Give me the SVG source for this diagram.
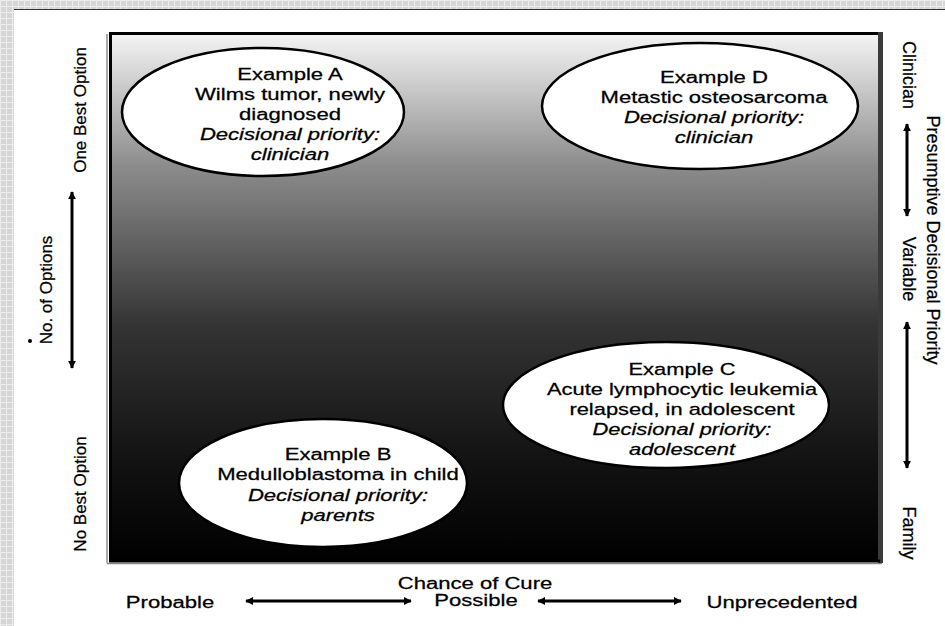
<svg xmlns="http://www.w3.org/2000/svg" width="945" height="626" viewBox="0 0 945 626">
  <defs>
    <pattern id="chk" width="6" height="6" patternUnits="userSpaceOnUse">
      <rect width="6" height="6" fill="#d6d6d6"/>
      <path d="M0 0.5H6M0.5 0V6" stroke="#ececec" stroke-width="1"/>
    </pattern>
    <linearGradient id="bg" x1="0" y1="0" x2="0" y2="1">
      <stop offset="0" stop-color="#f4f4f4"/>
      <stop offset="0.25" stop-color="#8c8c8c"/>
      <stop offset="0.55" stop-color="#343434"/>
      <stop offset="0.8" stop-color="#131313"/>
      <stop offset="1" stop-color="#000"/>
    </linearGradient>
    <marker id="ah" viewBox="0 0 10 10" refX="9" refY="5" markerWidth="8" markerHeight="8" markerUnits="userSpaceOnUse" orient="auto-start-reverse">
      <path d="M0 0L10 5L0 10z" fill="#000"/>
    </marker>
    <style>
      .t{font-family:"Liberation Sans",Arial,sans-serif;font-size:16px;fill:#000;stroke:#000;stroke-width:0.25;text-anchor:middle}
      .i{font-style:italic}
      .s{font-size:17px}
      .r{font-size:18px}
      .node ellipse{fill:#fff;stroke:#000;stroke-width:2.5}
      .arr{stroke:#000;stroke-width:3;fill:none;marker-start:url(#ah);marker-end:url(#ah)}
    </style>
  </defs>

  <rect width="945" height="626" fill="url(#chk)"/>
  <rect x="14" y="9" width="931" height="617" fill="#fff"/>
  <line x1="14" y1="9.5" x2="945" y2="9.5" stroke="#333" stroke-width="1"/>
  <circle cx="30" cy="341" r="2" fill="#000"/>

  <g id="chart-box">
    <line x1="107" y1="34" x2="107" y2="563" stroke="#aaa" stroke-width="2"/>
    <line x1="107" y1="563.5" x2="882" y2="563.5" stroke="#888" stroke-width="1.5"/>
    <rect x="110" y="34" width="770" height="528" fill="url(#bg)"/>
    <line x1="109" y1="33.5" x2="880" y2="33.5" stroke="#000" stroke-width="3"/>
    <line x1="110.5" y1="32" x2="110.5" y2="562" stroke="#000" stroke-width="3"/>
    <line x1="880.5" y1="32" x2="880.5" y2="563" stroke="#3a3a3a" stroke-width="5"/>
    <line x1="109" y1="561" x2="880" y2="561" stroke="#000" stroke-width="3"/>
  </g>

  <g id="example-a" class="node">
    <ellipse cx="263" cy="112" rx="141" ry="64"/>
    <g transform="translate(290,0) scale(1.38,1)">
      <text class="t" x="0" y="80">Example A</text>
      <text class="t" x="0" y="100">Wilms tumor, newly</text>
      <text class="t" x="0" y="120">diagnosed</text>
      <text class="t i" x="0" y="140">Decisional priority:</text>
      <text class="t i" x="0" y="160">clinician</text>
    </g>
  </g>

  <g id="example-d" class="node">
    <ellipse cx="700" cy="106" rx="158" ry="63"/>
    <g transform="translate(714,0) scale(1.38,1)">
      <text class="t" x="0" y="83">Example D</text>
      <text class="t" x="0" y="103">Metastic osteosarcoma</text>
      <text class="t i" x="0" y="123">Decisional priority:</text>
      <text class="t i" x="0" y="143">clinician</text>
    </g>
  </g>

  <g id="example-c" class="node">
    <ellipse cx="666" cy="405" rx="163" ry="63"/>
    <g transform="translate(682,0) scale(1.37,1)">
      <text class="t" x="0" y="375">Example C</text>
      <text class="t" x="0" y="395">Acute lymphocytic leukemia</text>
      <text class="t" x="0" y="415">relapsed, in adolescent</text>
      <text class="t i" x="0" y="435">Decisional priority:</text>
      <text class="t i" x="0" y="455">adolescent</text>
    </g>
  </g>

  <g id="example-b" class="node">
    <ellipse cx="323" cy="483" rx="144" ry="64"/>
    <g transform="translate(338,0) scale(1.38,1)">
      <text class="t" x="0" y="460">Example B</text>
      <text class="t" x="0" y="480">Medulloblastoma in child</text>
      <text class="t i" x="0" y="501">Decisional priority:</text>
      <text class="t i" x="0" y="521">parents</text>
    </g>
  </g>

  <g id="connectors">
    <line class="arr" x1="72" y1="192" x2="72" y2="368"/>
    <line class="arr" x1="907" y1="124" x2="907" y2="216"/>
    <line class="arr" x1="907" y1="322" x2="907" y2="468"/>
    <line class="arr" x1="246" y1="601" x2="411" y2="601"/>
    <line class="arr" x1="538" y1="601" x2="681" y2="601"/>
  </g>

  <g id="axis-left">
    <text class="t s" transform="translate(86,110) rotate(-90)">One Best Option</text>
    <text class="t s" transform="translate(52,290) rotate(-90)">No. of Options</text>
    <text class="t s" transform="translate(86,494) rotate(-90)">No Best Option</text>
  </g>

  <g id="axis-right">
    <text class="t r" transform="translate(903,75) rotate(90)">Clinician</text>
    <text class="t r" transform="translate(903,269) rotate(90)">Variable</text>
    <text class="t r" transform="translate(903,533) rotate(90)">Family</text>
    <text class="t r" transform="translate(927,240) rotate(90)">Presumptive Decisional Priority</text>
  </g>

  <g id="axis-bottom">
    <g transform="translate(475,0) scale(1.38,1)"><text class="t" x="0" y="589">Chance of Cure</text></g>
    <g transform="translate(170,0) scale(1.38,1)"><text class="t" x="0" y="608">Probable</text></g>
    <g transform="translate(476,0) scale(1.38,1)"><text class="t" x="0" y="606">Possible</text></g>
    <g transform="translate(782,0) scale(1.38,1)"><text class="t" x="0" y="608">Unprecedented</text></g>
  </g>
</svg>
